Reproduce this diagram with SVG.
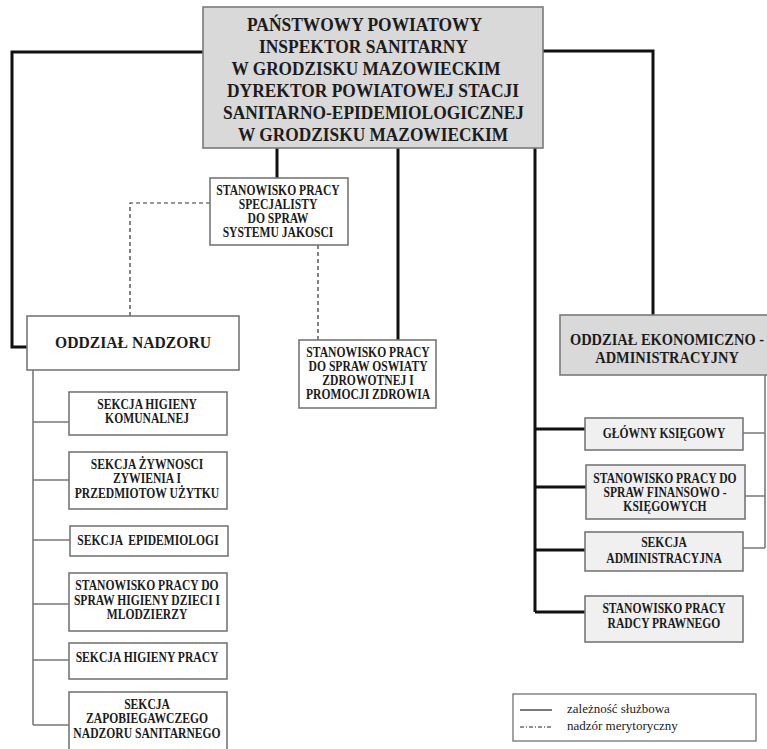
<svg xmlns="http://www.w3.org/2000/svg" width="767" height="749" viewBox="0 0 767 749">
<style>
  .box{fill:#ffffff;stroke:#777777;stroke-width:1.6}
  .gray{fill:#d9d9d9;stroke:#7a7a7a;stroke-width:1.6}
  .light{fill:#f0f0f0;stroke:#777777;stroke-width:1.6}
  text{font-family:"Liberation Serif","Times New Roman",serif;font-weight:bold;fill:#1c1c1c;text-anchor:middle}
  .t19{font-size:19.5px}
  .t12{font-size:14px;transform-box:fill-box;transform-origin:center;transform:scaleX(0.83)}
  .t16{font-size:17px;transform-box:fill-box;transform-origin:center;transform:scaleX(0.92)}
  .t15{font-size:17px;transform-box:fill-box;transform-origin:center;transform:scaleX(0.85)}
  .leg{font-size:13px;font-weight:normal;text-anchor:start}
  .thick{fill:none;stroke:#111111;stroke-width:3}
  .thin{fill:none;stroke:#7a7a7a;stroke-width:1.6}
  .dash{fill:none;stroke:#333333;stroke-width:1.2;stroke-dasharray:4 3}
</style>
<rect width="767" height="749" fill="#ffffff"/>

<g id="connectors">
  <path class="thick" d="M203,52 H12 V347 H27"/>
  <path class="thick" d="M543,51 H653 V315"/>
  <path class="thick" d="M277,148 V178"/>
  <path class="thick" d="M398,148 V340"/>
  <path class="thick" d="M535,148 V612 M535,429 H585 M535,487 H586 M535,550 H585 M535,612 H585"/>
  <path class="dash" d="M210,203 H130 V316"/>
  <path class="dash" d="M318,245 V340"/>
  <path class="thin" d="M33,370 V725 M33,422 H69 M33,480 H69 M33,540 H70 M33,604 H69 M33,660 H69 M33,725 H69"/>
  <path class="thin" d="M765,375 V548 M743,433 H765 M745,496 H765 M743,548 H765"/>
</g>

<g id="pps">
  <rect class="gray" x="203" y="7" width="340" height="141"/>
  <text class="t19" x="364.5" y="31" textLength="235" lengthAdjust="spacingAndGlyphs">PAŃSTWOWY POWIATOWY</text>
  <text class="t19" x="363.5" y="53" textLength="209" lengthAdjust="spacingAndGlyphs">INSPEKTOR SANITARNY</text>
  <text class="t19" x="366" y="75" textLength="269" lengthAdjust="spacingAndGlyphs">W GRODZISKU MAZOWIECKIM</text>
  <text class="t19" x="373" y="97" textLength="292" lengthAdjust="spacingAndGlyphs">DYREKTOR POWIATOWEJ STACJI</text>
  <text class="t19" x="373.5" y="119" textLength="301" lengthAdjust="spacingAndGlyphs">SANITARNO-EPIDEMIOLOGICZNEJ</text>
  <text class="t19" x="373" y="141" textLength="270" lengthAdjust="spacingAndGlyphs">W GRODZISKU MAZOWIECKIM</text>
</g>

<g id="jakosc">
  <rect class="box" x="210" y="178" width="138" height="67"/>
  <text class="t12" x="278" y="195">STANOWISKO PRACY</text>
  <text class="t12" x="278" y="209">SPECJALISTY</text>
  <text class="t12" x="278" y="223">DO SPRAW</text>
  <text class="t12" x="278" y="237">SYSTEMU JAKOSCI</text>
</g>

<g id="oswiata">
  <rect class="box" x="299" y="340" width="137" height="68"/>
  <text class="t12" x="368" y="357">STANOWISKO PRACY</text>
  <text class="t12" x="368" y="371">DO SPRAW OSWIATY</text>
  <text class="t12" x="368" y="385">ZDROWOTNEJ I</text>
  <text class="t12" x="368" y="399">PROMOCJI ZDROWIA</text>
</g>

<g id="nadzor">
  <rect class="box" x="27" y="316" width="212" height="54"/>
  <text class="t16" x="133" y="348">ODDZIAŁ NADZORU</text>
</g>

<g id="komunalna">
  <rect class="box" x="69" y="392" width="158" height="43"/>
  <text class="t12" x="147" y="409">SEKCJA HIGIENY</text>
  <text class="t12" x="147" y="423">KOMUNALNEJ</text>
</g>

<g id="zywnosc">
  <rect class="box" x="69" y="452" width="158" height="57"/>
  <text class="t12" x="147" y="469">SEKCJA ŻYWNOSCI</text>
  <text class="t12" x="147" y="483">ZYWIENIA I</text>
  <text class="t12" x="147" y="498">PRZEDMIOTOW UŻYTKU</text>
</g>

<g id="epidemiologia">
  <rect class="box" x="70" y="526" width="158" height="30"/>
  <text class="t12" x="148" y="545" xml:space="preserve">SEKCJA  EPIDEMIOLOGI</text>
</g>

<g id="dzieci">
  <rect class="box" x="69" y="573" width="158" height="58"/>
  <text class="t12" x="147" y="590">STANOWISKO PRACY DO</text>
  <text class="t12" x="147" y="605">SPRAW HIGIENY DZIECI I</text>
  <text class="t12" x="147" y="619">MLODZIERZY</text>
</g>

<g id="praca">
  <rect class="box" x="69" y="643" width="158" height="36"/>
  <text class="t12" x="147" y="662">SEKCJA HIGIENY PRACY</text>
</g>

<g id="zapobiegawczy">
  <rect class="box" x="69" y="692" width="158" height="62"/>
  <text class="t12" x="147" y="709">SEKCJA</text>
  <text class="t12" x="147" y="723">ZAPOBIEGAWCZEGO</text>
  <text class="t12" x="147" y="738">NADZORU SANITARNEGO</text>
</g>

<g id="ekonomiczny">
  <rect class="gray" x="560" y="315" width="210" height="60"/>
  <text class="t15" x="667" y="345">ODDZIAŁ EKONOMICZNO -</text>
  <text class="t15" x="667" y="363">ADMINISTRACYJNY</text>
</g>

<g id="ksiegowy">
  <rect class="light" x="585" y="418" width="158" height="32"/>
  <text class="t12" x="664" y="438">GŁÓWNY KSIĘGOWY</text>
</g>

<g id="finanse">
  <rect class="light" x="586" y="465" width="159" height="54"/>
  <text class="t12" x="665" y="483">STANOWISKO PRACY DO</text>
  <text class="t12" x="665" y="497">SPRAW FINANSOWO -</text>
  <text class="t12" x="665" y="511">KSIĘGOWYCH</text>
</g>

<g id="administracja">
  <rect class="light" x="585" y="532" width="158" height="39"/>
  <text class="t12" x="664" y="547">SEKCJA</text>
  <text class="t12" x="664" y="563">ADMINISTRACYJNA</text>
</g>

<g id="radca">
  <rect class="light" x="585" y="596" width="158" height="46"/>
  <text class="t12" x="664" y="613">STANOWISKO PRACY</text>
  <text class="t12" x="664" y="628">RADCY PRAWNEGO</text>
</g>

<g id="legenda">
  <rect x="513" y="694" width="243" height="47" fill="#ffffff" stroke="#666666" stroke-width="1.2"/>
  <line x1="520" y1="710" x2="552" y2="710" stroke="#222222" stroke-width="1.2"/>
  <line x1="520" y1="727" x2="552" y2="727" stroke="#222222" stroke-width="1.2" stroke-dasharray="4 2 1 2"/>
  <text class="leg" x="567" y="713">zależność służbowa</text>
  <text class="leg" x="567" y="730">nadzór merytoryczny</text>
</g>
</svg>
